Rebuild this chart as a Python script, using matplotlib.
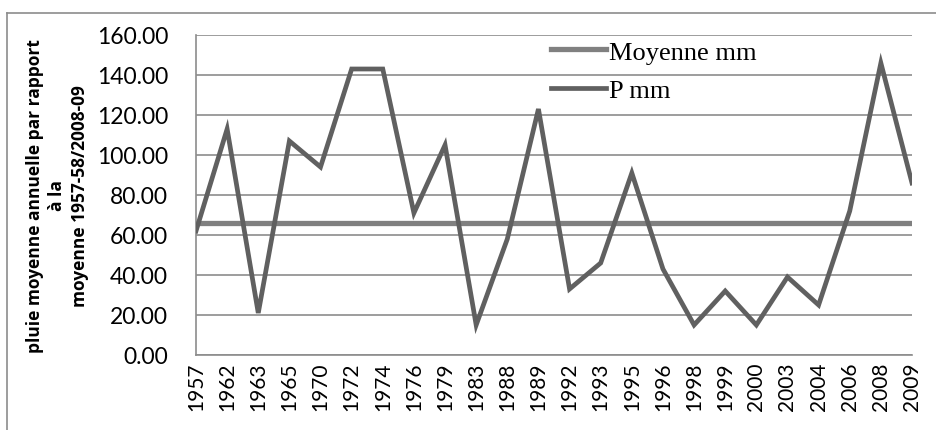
import matplotlib.pyplot as plt
from matplotlib.lines import Line2D

years = ["1957", "1962", "1963", "1965", "1970", "1972", "1974", "1976", "1979", "1983",
         "1988", "1989", "1992", "1993", "1995", "1996", "1998", "1999", "2000", "2003",
         "2004", "2006", "2008", "2009"]
p_mm = [62, 113, 21, 107, 94, 143, 143, 71, 105, 15,
        58, 123, 33, 46, 91, 43, 15, 32, 15, 39,
        25, 72, 146, 86]
moyenne_mm = [66] * len(years)
y_ticks = [0, 20, 40, 60, 80, 100, 120, 140, 160]

W, H = 937, 431
fig = plt.figure(figsize=(W / 100, H / 100), dpi=100)
ax = fig.add_axes([196 / W, 1 - 356 / H, (912 - 196) / W, (356 - 36) / H])

x = list(range(len(years)))
ax.plot(x, moyenne_mm, color="#808080", lw=3.8, solid_capstyle="butt", label="Moyenne mm", zorder=3)
ax.plot(x, p_mm, color="#606060", lw=3.4, solid_joinstyle="miter", label="P mm", zorder=4)

ax.set_xlim(0, len(years) - 1)
ax.set_ylim(0, 160)
ax.set_yticks(y_ticks)
ax.set_yticklabels([f"{v:.2f}" for v in y_ticks], fontsize=16.5, family="Lato")
ax.set_xticks(x)
ax.set_xticklabels(years, rotation=90, fontsize=15, family="Lato")
ax.tick_params(length=0)
ax.tick_params(axis="y", pad=20)
ax.tick_params(axis="x", pad=5)
ax.grid(axis="y", color="#8c8c8c", lw=1.2)
ax.set_axisbelow(True)
for side in ("top", "right"):
    ax.spines[side].set_visible(False)
ax.spines["left"].set_color("#8c8c8c")
ax.spines["bottom"].set_color("#8c8c8c")
ax.spines["left"].set_linewidth(1.2)
ax.spines["bottom"].set_linewidth(1.2)

ax.set_ylabel("pluie moyenne annuelle par rapport\nà la\nmoyenne 1957-58/2008-09",
              fontsize=12.5, fontweight="bold", family="Open Sans", labelpad=6, linespacing=1.3)

handles = [Line2D([], [], color="#808080", lw=3.8), Line2D([], [], color="#606060", lw=3.4)]
leg = ax.legend(handles, ["Moyenne mm", "P mm"], loc="upper left", bbox_to_anchor=(0.462, 1.058),
                frameon=False, handlelength=2.1, handletextpad=0.1, labelspacing=0.57,
                prop={"family": "Liberation Serif", "size": 19})

# outer chart border
fig.add_artist(Line2D([7 / W, 1], [1 - 14 / H, 1 - 14 / H], color="#8c8c8c", lw=1.2))
fig.add_artist(Line2D([7 / W, 7 / W], [1 - 14 / H, 0], color="#8c8c8c", lw=1.2))

fig.savefig("out.png", dpi=100)
